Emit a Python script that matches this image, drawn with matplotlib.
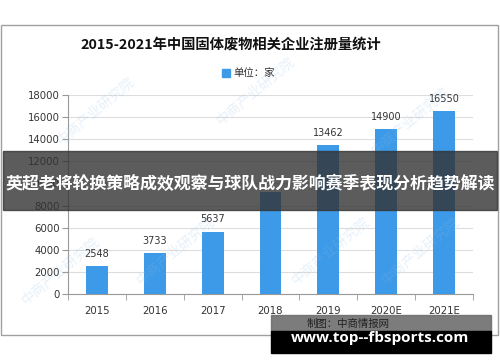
import matplotlib.pyplot as plt
from matplotlib.patches import Rectangle

plt.rcParams['font.family'] = ['Noto Sans CJK SC', 'DejaVu Sans']

years = ['2015', '2016', '2017', '2018', '2019', '2020E', '2021E']
counts = [2548, 3733, 5637, 9200, 13462, 14900, 16550]
shown = [True, True, True, False, True, True, True]   # 2018 label hidden by banner
yticks = list(range(0, 18001, 2000))

title = '2015-2021年中国固体废物相关企业注册量统计'
legend_label = '单位：家'
banner = '英超老将轮换策略成效观察与球队战力影响赛季表现分析趋势解读'
source = '制图：中商情报网'
site = 'www.top--fbsports.com'

W, H = 500, 362
fig = plt.figure(figsize=(W / 100, H / 100), dpi=100)

def fx(px):
    return px / W

def fy(py):
    return 1 - py / H

# outer chart frame
fig.patches.append(Rectangle((fx(1), fy(335)), fx(497), (335 - 25) / H,
                             transform=fig.transFigure, fill=False,
                             edgecolor='#a0a0a0', lw=1))

ax = fig.add_axes([fx(68), fy(294), fx(473 - 68), (294 - 95) / H])
x = list(range(len(years)))
ax.bar(x, counts, width=0.38, color='#3d9ae8', zorder=3)
for xi, v, s in zip(x, counts, shown):
    if s:
        ax.text(xi, v + 650, str(v), ha='center', va='bottom', fontsize=7,
                color='#333333', family='DejaVu Sans')

ax.set_xlim(-0.5, len(years) - 0.5)
ax.set_ylim(0, 18000)
ax.set_yticks(yticks)
ax.set_yticklabels([str(t) for t in yticks], family='DejaVu Sans', fontsize=7.3, color='#333333')
ax.set_xticks(x)
ax.set_xticklabels(years, family='DejaVu Sans', fontsize=7.3, color='#333333')
ax.set_xticks([i - 0.5 for i in range(len(years) + 1)], minor=True)
ax.tick_params(axis='x', which='major', length=0, pad=9)
ax.tick_params(axis='x', which='minor', length=4, color='#999999', direction='out')
ax.tick_params(axis='y', length=4, color='#999999', pad=2)
ax.grid(axis='y', color='#dddddd', lw=0.8, zorder=0)
for sp in ['top', 'right']:
    ax.spines[sp].set_visible(False)
ax.spines['left'].set_color('#999999')
ax.spines['bottom'].set_color('#999999')

# watermarks
for wx, wy in [(95, 110), (175, 250), (255, 90), (330, 250), (410, 120), (420, 250), (60, 270)]:
    fig.text(fx(wx), fy(wy), '中商产业研究院', rotation=40, fontsize=10,
             color='#8fbfe6', alpha=0.22, ha='center', va='center')

fig.text(fx(231), fy(45), title, ha='center', va='center', fontsize=10.3,
         fontweight='bold', color='#111111')
fig.patches.append(Rectangle((fx(222), fy(77)), fx(8), 8 / H,
                             transform=fig.transFigure, color='#3d9ae8'))
fig.text(fx(233), fy(73), legend_label, ha='left', va='center', fontsize=7.5, color='#333333')

# dark overlay banner
fig.patches.append(Rectangle((fx(3), fy(210)), fx(494), 59 / H,
                             transform=fig.transFigure, color='#333333', alpha=0.8, zorder=5))
fig.text(fx(250), fy(184), banner, ha='center', va='center', fontsize=12.2,
         fontweight='bold', color='white', zorder=6)

# bottom site banner
fig.patches.append(Rectangle((fx(271), fy(331)), fx(220), 16 / H,
                             transform=fig.transFigure, color='#6e6e6e', alpha=0.9, zorder=5))
fig.patches.append(Rectangle((fx(271), fy(353)), fx(220), 22 / H,
                             transform=fig.transFigure, color='black', zorder=5))
fig.text(fx(348), fy(324), source, ha='center', va='center', fontsize=7.5,
         color='#222222', zorder=6)
fig.text(fx(380), fy(338), site, ha='center', va='center', fontsize=11,
         fontweight='bold', color='white', family='Open Sans', zorder=6)

fig.savefig('out.png', dpi=100)
